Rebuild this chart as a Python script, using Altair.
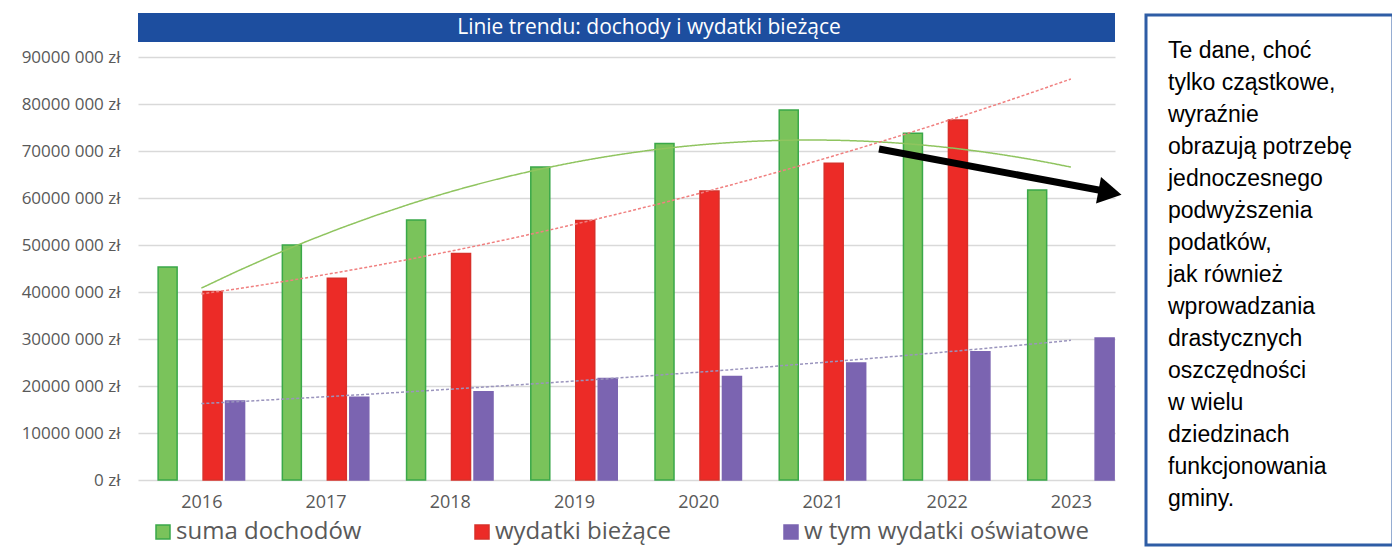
import altair as alt
import pandas as pd

# ---------------- data ----------------
years = [2016, 2017, 2018, 2019, 2020, 2021, 2022, 2023]
series_names = ["suma dochodów", "wydatki bieżące", "w tym wydatki oświatowe"]
suma_dochodow = [45.3e6, 50.0e6, 55.3e6, 66.6e6, 71.6e6, 78.7e6, 73.8e6, 61.7e6]
wydatki_biezace = [40.1e6, 42.9e6, 48.2e6, 55.2e6, 61.5e6, 67.4e6, 76.6e6, None]
wydatki_oswiatowe = [16.8e6, 17.6e6, 18.8e6, 21.6e6, 22.0e6, 24.9e6, 27.3e6, 30.2e6]
y_ticks = [0, 10e6, 20e6, 30e6, 40e6, 50e6, 60e6, 70e6, 80e6, 90e6]
title_text = "Linie trendu: dochody i wydatki bieżące"
note_lines = [
    "Te dane, choć",
    "tylko cząstkowe,",
    "wyraźnie",
    "obrazują potrzebę",
    "jednoczesnego",
    "podwyższenia",
    "podatków,",
    "jak również",
    "wprowadzania",
    "drastycznych",
    "oszczędności",
    "w wielu",
    "dziedzinach",
    "funkcjonowania",
    "gminy.",
]

rows = []
for name, vals in zip(series_names, [suma_dochodow, wydatki_biezace, wydatki_oswiatowe]):
    for yr, v in zip(years, vals):
        if v is not None:
            rows.append({"rok": yr, "seria": name, "wartosc": v})
df = pd.DataFrame(rows)
one = pd.DataFrame({"k": [0]})

# ---------------- style ----------------
FONT = "Open Sans"
GRAY = "#595959"
fills = ["#7ac35b", "#ec2b27", "#7b64b1"]
strokes = ["#3aa849", "#d8302a", "#7b64b1"]
SLOT = 0.181
BARW = 0.153

xscale = alt.Scale(domain=[2015.49, 2023.355], nice=False, zero=False)
yscale = alt.Scale(domain=[0, 90e6], nice=False)

x_axis = alt.Axis(values=years, format="d", labelFont=FONT, labelFontSize=18,
                  labelColor=GRAY, grid=False, ticks=False, domain=False,
                  labelPadding=13, title=None)
y_axis = alt.Axis(values=y_ticks,
                  labelExpr="datum.value == 0 ? '0 zł' : format(datum.value/1000, 'd') + ' 000 zł'",
                  labelFont=FONT, labelFontSize=17, labelColor=GRAY,
                  grid=True, gridColor="#d9d9d9", gridWidth=1.5,
                  ticks=False, domain=False, labelPadding=18, title=None)

slot_expr = ("datum.seria === 'suma dochodów' ? -1.5 : "
             "(datum.seria === 'wydatki bieżące' ? 0.5 : 1.5)")

bars = alt.Chart(df).transform_calculate(
    slot=slot_expr
).transform_calculate(
    x0=f"datum.rok + datum.slot*{SLOT} - {BARW/2}",
    x1=f"datum.rok + datum.slot*{SLOT} + {BARW/2}",
).mark_bar(strokeWidth=1.5).encode(
    x=alt.X("x0:Q", scale=xscale, title=None, axis=x_axis),
    x2="x1:Q",
    y=alt.Y("wartosc:Q", scale=yscale, title=None, axis=y_axis),
    y2=alt.datum(0),
    color=alt.Color("seria:N", scale=alt.Scale(domain=series_names, range=fills),
                    legend=alt.Legend(orient="none", legendX=13, legendY=463,
                                      direction="horizontal", title=None,
                                      symbolType="square", symbolSize=196,
                                      labelFont=FONT, labelFontSize=24, labelColor=GRAY,
                                      columnPadding=108, labelOffset=1, labelLimit=600)),
    stroke=alt.Stroke("seria:N", scale=alt.Scale(domain=series_names, range=strokes),
                      legend=None),
)


def trend(name, color, dash, **reg):
    return alt.Chart(df).transform_filter(
        alt.datum.seria == name
    ).transform_regression(
        "rok", "wartosc", extent=[2016, 2023], **reg
    ).mark_line(color=color, strokeWidth=1.5, strokeDash=dash).encode(
        x=alt.X("rok:Q", scale=xscale, title=None, axis=x_axis),
        y=alt.Y("wartosc:Q", scale=yscale, title=None, axis=y_axis),
    )


trend_green = trend("suma dochodów", "#8fc45f", [1, 0], method="poly", order=2)
trend_red = trend("wydatki bieżące", "#f08080", [3, 2], method="poly", order=2)
trend_purple = trend("w tym wydatki oświatowe", "#9a94bd", [3, 2], method="exp")

# title bar
title_bar = alt.Chart(one).mark_rect(color="#1d4e9f").encode(
    x=alt.value(0), x2=alt.value(977), y=alt.value(-44), y2=alt.value(-15)
)
title_txt = alt.Chart(one).mark_text(
    font=FONT, fontSize=21, color="white", align="center", baseline="middle"
).encode(x=alt.value(511), y=alt.value(-29.5), text=alt.value(title_text))

# note box
note_box = alt.Chart(one).mark_rect(fill="white", stroke="#2e5da5", strokeWidth=3).encode(
    x=alt.value(1008), x2=alt.value(1255), y=alt.value(-42), y2=alt.value(488)
)
note_txt = alt.Chart(one).mark_text(
    font="Liberation Sans", fontSize=23, color="black", align="left",
    baseline="alphabetic", lineHeight=32, lineBreak="\n"
).encode(x=alt.value(1030), y=alt.value(1), text=alt.value("\n".join(note_lines)))

# arrow
arrow_shaft = alt.Chart(one).mark_rule(color="black", strokeWidth=7).encode(
    x=alt.value(741), y=alt.value(92), x2=alt.value(966), y2=alt.value(134)
)
arrow_head = alt.Chart(one).mark_point(
    shape="triangle-right", size=729, angle=10.7, filled=True, color="black", opacity=1
).encode(x=alt.value(972), y=alt.value(135.5))

chart = alt.layer(
    bars, trend_green, trend_red, trend_purple,
    title_bar, title_txt, note_box, note_txt, arrow_shaft, arrow_head
).properties(
    width=977, height=423,
    autosize=alt.AutoSizeParams(type="none"),
    padding={"left": 130, "top": 49, "right": 277, "bottom": 68},
    background="white",
).configure_view(stroke=None)

chart.save("out.html", embed_options={"renderer": "svg", "actions": False})
